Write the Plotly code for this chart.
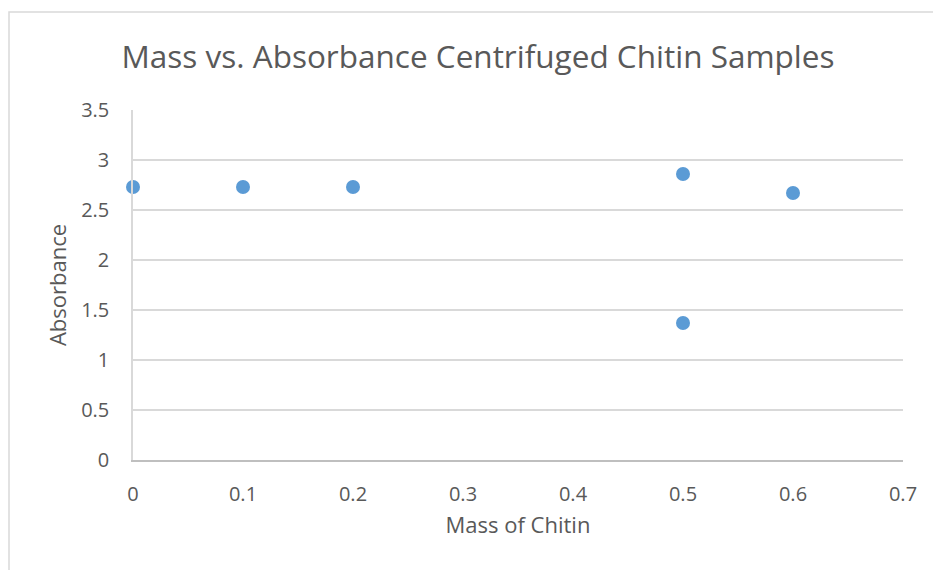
import plotly.graph_objects as go

mass = [0, 0.1, 0.2, 0.5, 0.5, 0.6]
absorbance = [2.73, 2.73, 2.73, 2.86, 1.37, 2.67]

x_ticks = [0, 0.1, 0.2, 0.3, 0.4, 0.5, 0.6, 0.7]
x_labels = ["0", "0.1", "0.2", "0.3", "0.4", "0.5", "0.6", "0.7"]
y_ticks = [0, 0.5, 1, 1.5, 2, 2.5, 3, 3.5]
y_labels = ["0", "0.5", "1", "1.5", "2", "2.5", "3", "3.5"]

font_family = "Open Sans, Liberation Sans, sans-serif"

fig = go.Figure()
fig.add_trace(go.Scatter(
    x=mass, y=absorbance, mode="markers",
    marker=dict(size=14, color="#5B9BD5", line=dict(width=0)),
    showlegend=False, cliponaxis=False,
))

fig.update_layout(
    width=933, height=570,
    margin=dict(l=133, r=30, t=110, b=110),
    paper_bgcolor="white", plot_bgcolor="white",
    title=dict(text="Mass vs. Absorbance Centrifuged Chitin Samples",
               x=478 / 933, xanchor="center", y=1 - 57 / 570, yanchor="middle",
               font=dict(family=font_family, size=31.5, color="#595959")),
    font=dict(family=font_family, color="#595959"),
    xaxis=dict(range=[0, 0.7], tickvals=x_ticks, ticktext=x_labels,
               showgrid=False, zeroline=False, showline=True,
               linecolor="#BFBFBF", linewidth=1.5, ticks="",
               tickfont=dict(size=20, color="#595959"), ticklabelstandoff=15,
               title=dict(text="Mass of Chitin", font=dict(size=22, color="#595959"), standoff=12)),
    yaxis=dict(range=[0, 3.5], tickvals=y_ticks, ticktext=y_labels,
               showgrid=True, gridcolor="#D9D9D9", gridwidth=1.5,
               zeroline=False, showline=True, linecolor="#D9D9D9", linewidth=1.5,
               ticks="", tickfont=dict(size=20, color="#595959"), ticklabelstandoff=18,
               title=dict(text="Absorbance", font=dict(size=22, color="#595959"), standoff=8)),
    shapes=[dict(type="rect", xref="paper", yref="paper",
                 x0=-124 / 770, x1=(933 - 133 + 20) / 770,
                 y0=-(570 - 460 + 20) / 350, y1=(460 - 12) / 350,
                 line=dict(color="#D9D9D9", width=1.5), fillcolor="rgba(0,0,0,0)", layer="below")],
)

fig.write_html("out.html")
